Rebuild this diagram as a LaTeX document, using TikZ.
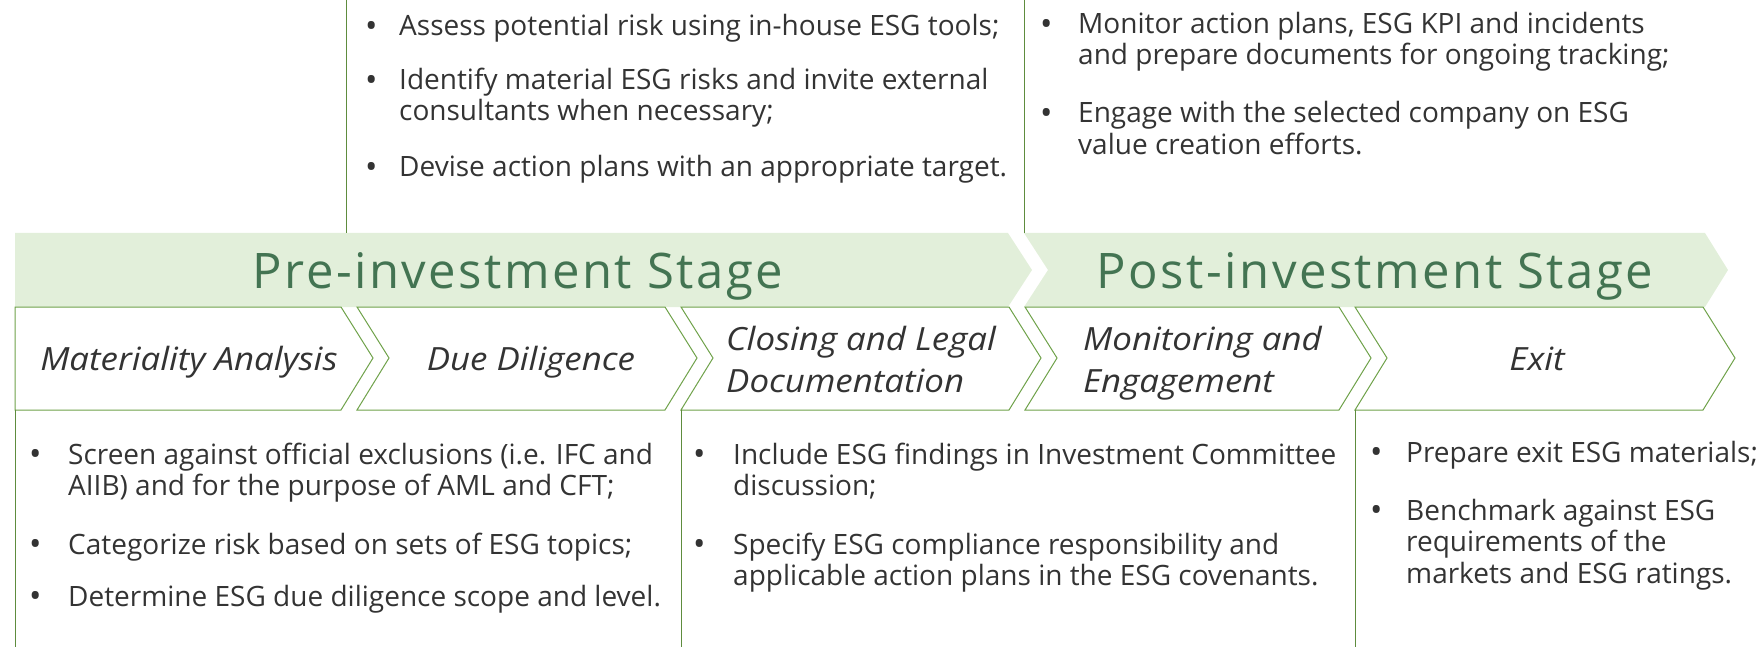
\documentclass[tikz,border=0pt]{standalone}
\usepackage{fontspec}
\setmainfont{Open Sans}
\newfontfamily\titlefont[LetterSpace=5]{Open Sans}
\newfontfamily\labfont[FakeStretch=1.09]{Open Sans}
\definecolor{bandfill}{HTML}{E2EFDA}
\definecolor{titlecol}{HTML}{437452}
\definecolor{chevline}{HTML}{6FA24A}
\definecolor{vline}{HTML}{5E8C3E}
\definecolor{txt}{HTML}{333333}
\tikzset{
  band/.style={fill=bandfill, draw=none},
  chev/.style={fill=white, draw=chevline, line width=1pt, line join=miter},
  vrule/.style={draw=vline, line width=1pt},
  ttl/.style={anchor=base, inner sep=0pt, text=titlecol, font=\titlefont\fontsize{49}{58}\selectfont},
  lab/.style={inner sep=0pt, text=txt, font=\labfont\itshape\fontsize{32}{42}\selectfont},
  bodyline/.style={anchor=base west, inner sep=0pt, text=txt, font=\fontsize{28}{31}\selectfont},
  bul/.style={anchor=base west, inner sep=0pt, text=txt, font=\fontsize{33}{31}\selectfont, yshift=-1.5pt}
}
\begin{document}
\begin{tikzpicture}[x=1pt,y=-1pt]
\useasboundingbox (0,0) rectangle (1757,647);
% band
\path[band] (15,233) -- (1008,233) -- (1032,270) -- (1008,307) -- (15,307) -- cycle;
\path[band] (1024,233) -- (1705,233) -- (1728,270) -- (1705,307) -- (1024,307) -- (1048,270) -- cycle;
\node[ttl] (pre) at (518,288) {Pre-investment Stage};
\node[ttl] (post) at (1375,288) {Post-investment Stage};
% chevrons
\path[chev] (15,307) -- (341,307) -- (373,358) -- (341,410) -- (15,410) -- cycle;
\path[chev] (357,307) -- (665,307) -- (697,358) -- (665,410) -- (357,410) -- (389,358) -- cycle;
\path[chev] (681,307) -- (1009,307) -- (1041,358) -- (1009,410) -- (681,410) -- (713,358) -- cycle;
\path[chev] (1025,307) -- (1339,307) -- (1371,358) -- (1339,410) -- (1025,410) -- (1057,358) -- cycle;
\path[chev] (1355,307) -- (1703,307) -- (1735,358) -- (1703,410) -- (1355,410) -- (1387,358) -- cycle;
\node[lab, anchor=base] (ma) at (189,370) {Materiality Analysis};
\node[lab, anchor=base] (dd) at (531,370) {Due Diligence};
\node[lab, anchor=base west] (cl1) at (726,350) {Closing and Legal};
\node[lab, anchor=base west] (cl2) at (726,392) {Documentation};
\node[lab, anchor=base west] (me1) at (1083,350) {Monitoring and};
\node[lab, anchor=base west] (me2) at (1083,392) {Engagement};
\node[lab, anchor=base] (ex) at (1537,370) {Exit};
% vertical rules
\coordinate (t1) at (346,0); \coordinate (t1b) at (346,233);
\coordinate (t2) at (1024,0); \coordinate (t2b) at (1024,233);
\coordinate (b1) at (15,410); \coordinate (b1b) at (15,647);
\coordinate (b2) at (681,410); \coordinate (b2b) at (681,647);
\coordinate (b3) at (1355,410); \coordinate (b3b) at (1355,647);
\draw[vrule] (t1) -- (t1b);
\draw[vrule] (t2) -- (t2b);
\draw[vrule] (b1) -- (b1b);
\draw[vrule] (b2) -- (b2b);
\draw[vrule] (b3) -- (b3b);
% top-left text
\node[bul] (tlb1) at (365,36) {•};
\node[bodyline] (tl1) at (399,36) {Assess potential risk using in-house ESG tools;};
\node[bul] (tlb2) at (365,90) {•};
\node[bodyline] (tl2) at (399,90) {Identify material ESG risks and invite external};
\node[bodyline] (tl3) at (399,121) {consultants when necessary;};
\node[bul] (tlb3) at (365,177) {•};
\node[bodyline] (tl4) at (399,177) {Devise action plans with an appropriate target.};
% top-right text
\node[bul] (trb1) at (1040,34) {•};
\node[bodyline] (tr1) at (1078,34) {Monitor action plans, ESG KPI and incidents};
\node[bodyline] (tr2) at (1078,65) {and prepare documents for ongoing tracking;};
\node[bul] (trb2) at (1040,123) {•};
\node[bodyline] (tr3) at (1078,123) {Engage with the selected company on ESG};
\node[bodyline] (tr4) at (1078,155) {value creation efforts.};
% bottom block 1
\node[bul] (b1b1) at (29,464) {•};
\node[bodyline] (bl1) at (68,464) {Screen against official exclusions (i.e. IFC and};
\node[bodyline] (bl2) at (68,495) {AIIB) and for the purpose of AML and CFT;};
\node[bul] (b1b2) at (29,554) {•};
\node[bodyline] (bl3) at (68,554) {Categorize risk based on sets of ESG topics;};
\node[bul] (b1b3) at (29,606) {•};
\node[bodyline] (bl4) at (68,606) {Determine ESG due diligence scope and level.};
% bottom block 2
\node[bul] (b2b1) at (693,464) {•};
\node[bodyline] (bm1) at (733,464) {Include ESG findings in Investment Committee};
\node[bodyline] (bm2) at (733,495) {discussion;};
\node[bul] (b2b2) at (693,554) {•};
\node[bodyline] (bm3) at (733,554) {Specify ESG compliance responsibility and};
\node[bodyline] (bm4) at (733,585) {applicable action plans in the ESG covenants.};
% bottom block 3
\node[bul] (b3b1) at (1370,462) {•};
\node[bodyline] (br1) at (1406,462) {Prepare exit ESG materials;};
\node[bul] (b3b2) at (1370,520) {•};
\node[bodyline] (br2) at (1406,520) {Benchmark against ESG};
\node[bodyline] (br3) at (1406,551) {requirements of the};
\node[bodyline] (br4) at (1406,583) {markets and ESG ratings.};
\end{tikzpicture}
\end{document}
